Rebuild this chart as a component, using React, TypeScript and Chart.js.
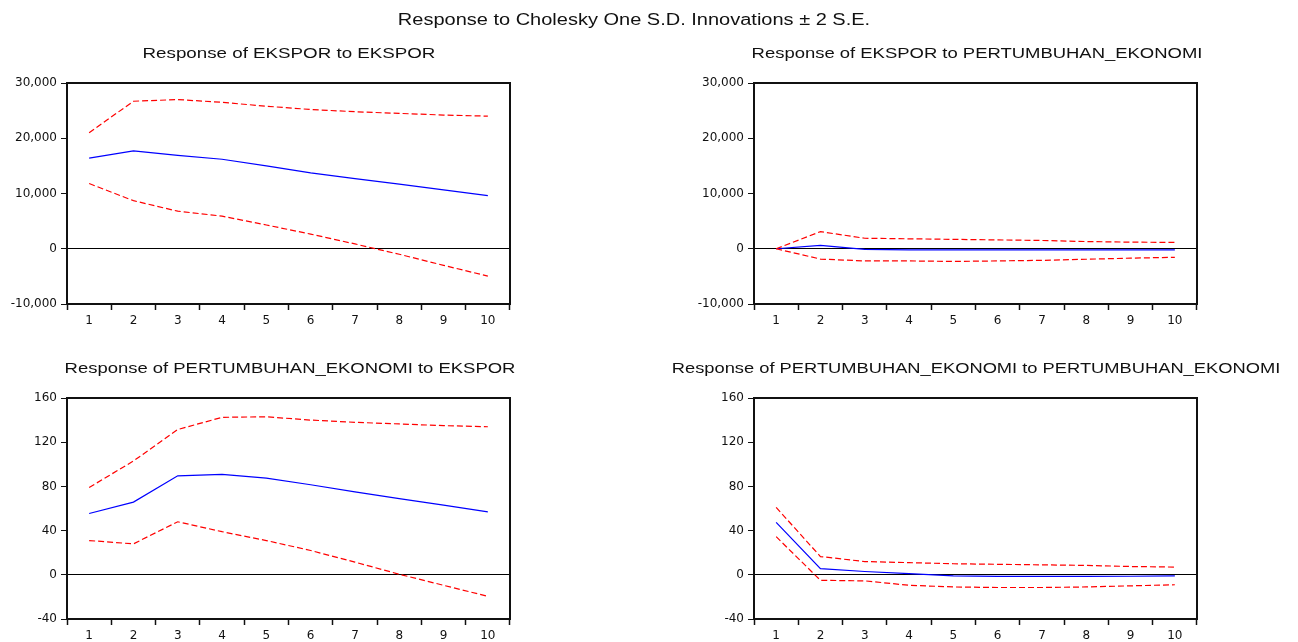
import React, { useEffect, useRef } from 'react';
import { Chart, registerables } from 'chart.js';

Chart.register(...registerables);

// ---- data ----
const periods = ['1', '2', '3', '4', '5', '6', '7', '8', '9', '10'];

const eksporToEksporResp = [16400, 17700, 16900, 16200, 15000, 13750, 12700, 11700, 10650, 9600];
const eksporToEksporUpper = [21000, 26700, 27000, 26500, 25800, 25200, 24800, 24500, 24200, 24000];
const eksporToEksporLower = [11800, 8700, 6800, 5900, 4300, 2650, 870, -1000, -3000, -4950];

const eksporToPeResp = [0, 600, -100, -200, -200, -200, -200, -200, -200, -200];
const eksporToPeUpper = [0, 3100, 1900, 1800, 1700, 1600, 1500, 1300, 1200, 1150];
const eksporToPeLower = [0, -1870, -2200, -2200, -2300, -2200, -2100, -1900, -1700, -1550];

const peToEksporResp = [55.5, 65.8, 89.6, 90.8, 87.5, 81.5, 75, 69, 63, 57];
const peToEksporUpper = [79, 103, 131.5, 142.5, 143, 140, 138, 136.5, 135, 134];
const peToEksporLower = [31, 28, 48, 39, 31, 22, 11.5, 0.5, -9.5, -19.5];

const peToPeResp = [47.5, 5.5, 3, 1, -1, -1.5, -1.5, -1.5, -1.3, -1];
const peToPeUpper = [61, 16.5, 12, 11, 10, 9.5, 9, 8.5, 7.5, 7];
const peToPeLower = [34.5, -5, -5.5, -9.5, -11, -11.5, -11.5, -11, -10, -9];

const eksporTicks = { min: -10000, max: 30000, step: 10000 };
const peTicks = { min: -40, max: 160, step: 40 };

const mainTitle = 'Response to Cholesky One S.D. Innovations \u00B1 2 S.E.';

const TICK_FONT = { family: '"DejaVu Sans", "Liberation Sans", Arial, sans-serif', size: 12 };

const boxPlugin = {
  id: 'boxPlugin',
  afterDraw(chart: any) {
    const { ctx, chartArea } = chart;
    ctx.save();
    ctx.strokeStyle = '#111';
    ctx.lineWidth = 2;
    ctx.strokeRect(chartArea.left, chartArea.top, chartArea.right - chartArea.left, chartArea.bottom - chartArea.top);
    ctx.restore();
  },
};

type PanelProps = {
  left: number;
  top: number;
  width: number;
  height: number;
  padTop: number;
  padRight: number;
  yWidth: number;
  xHeight: number;
  resp: number[];
  upper: number[];
  lower: number[];
  range: { min: number; max: number; step: number };
};

function Panel(p: PanelProps) {
  const ref = useRef<HTMLCanvasElement>(null);
  useEffect(() => {
    if (!ref.current) return;
    const dashed = (data: number[]) => ({
      data,
      borderColor: '#ff0000',
      borderWidth: 1.2,
      borderDash: [6, 3],
      pointRadius: 0,
      fill: false,
      tension: 0,
    });
    const chart = new Chart(ref.current, {
      type: 'line',
      data: {
        labels: periods,
        datasets: [
          dashed(p.upper),
          dashed(p.lower),
          { data: p.resp, borderColor: '#0000ff', borderWidth: 1.2, pointRadius: 0, fill: false, tension: 0 },
        ],
      },
      options: {
        animation: false,
        responsive: false,
        devicePixelRatio: 1,
        layout: { padding: { top: p.padTop, right: p.padRight, left: 0, bottom: 0 } },
        plugins: { legend: { display: false }, tooltip: { enabled: false }, title: { display: false } },
        scales: {
          x: {
            type: 'category',
            offset: true,
            border: { display: false },
            grid: { offset: true, drawOnChartArea: false, drawTicks: true, tickLength: 6, tickColor: '#111', tickWidth: 1.5 },
            ticks: { color: '#111', font: TICK_FONT, padding: 4, maxRotation: 0, autoSkip: false },
            afterFit: (s: any) => { s.height = p.xHeight; },
          },
          y: {
            min: p.range.min,
            max: p.range.max,
            border: { display: false },
            grid: {
              drawOnChartArea: true,
              drawTicks: true,
              tickLength: 6,
              tickColor: '#111',
              color: (c: any) => (c.tick && c.tick.value === 0 ? '#000' : 'rgba(0,0,0,0)'),
              lineWidth: 1,
            },
            ticks: { stepSize: p.range.step, color: '#111', font: TICK_FONT, padding: 4 },
            afterFit: (s: any) => { s.width = p.yWidth; },
          },
        },
      },
      plugins: [boxPlugin],
    });
    return () => chart.destroy();
  }, []);
  return (
    <canvas
      ref={ref}
      width={p.width}
      height={p.height}
      style={{ position: 'absolute', left: p.left, top: p.top, width: p.width, height: p.height }}
    />
  );
}

function Title({ text, cx, top, size, scale }: { text: string; cx: number; top: number; size: number; scale: number }) {
  return (
    <div
      style={{
        position: 'absolute',
        left: cx,
        top,
        transform: `translateX(-50%) scaleX(${scale})`,
        whiteSpace: 'nowrap',
        font: `${size}px "Liberation Sans", Arial, sans-serif`,
        lineHeight: '20px',
        color: '#111',
      }}
    >
      {text}
    </div>
  );
}

export default function App() {
  return (
    <div style={{ position: 'absolute', left: 0, top: 0, width: 1298, height: 642, background: '#fff', overflow: 'hidden' }}>
      <Panel left={0} top={0} width={649} height={330} padTop={83} padRight={139} yWidth={67} xHeight={26}
        resp={eksporToEksporResp} upper={eksporToEksporUpper} lower={eksporToEksporLower} range={eksporTicks} />
      <Panel left={649} top={0} width={649} height={330} padTop={83} padRight={101} yWidth={105} xHeight={26}
        resp={eksporToPeResp} upper={eksporToPeUpper} lower={eksporToPeLower} range={eksporTicks} />
      <Panel left={0} top={330} width={649} height={312} padTop={68} padRight={139} yWidth={67} xHeight={23}
        resp={peToEksporResp} upper={peToEksporUpper} lower={peToEksporLower} range={peTicks} />
      <Panel left={649} top={330} width={649} height={312} padTop={68} padRight={101} yWidth={105} xHeight={23}
        resp={peToPeResp} upper={peToPeUpper} lower={peToPeLower} range={peTicks} />

      <Title text={mainTitle} cx={634} top={10} size={16} scale={1.25} />
      <Title text="Response of EKSPOR to EKSPOR" cx={289} top={43} size={15} scale={1.25} />
      <Title text="Response of EKSPOR to PERTUMBUHAN_EKONOMI" cx={977} top={43} size={15} scale={1.23} />
      <Title text="Response of PERTUMBUHAN_EKONOMI to EKSPOR" cx={290} top={358} size={15} scale={1.23} />
      <Title text="Response of PERTUMBUHAN_EKONOMI to PERTUMBUHAN_EKONOMI" cx={976} top={358} size={15} scale={1.22} />
    </div>
  );
}
